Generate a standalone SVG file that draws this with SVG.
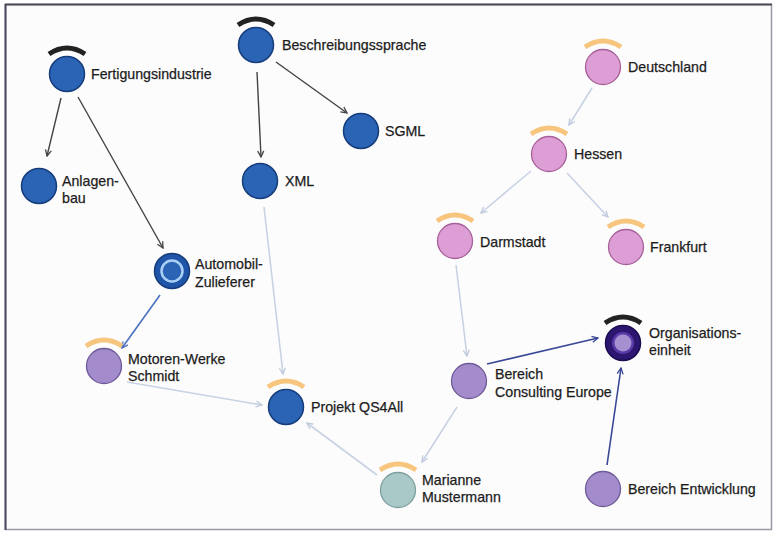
<svg xmlns="http://www.w3.org/2000/svg" width="775" height="534" viewBox="0 0 775 534">
<defs>
<marker id="aDark" viewBox="0 0 8 8" refX="7" refY="4" markerWidth="8" markerHeight="8" markerUnits="userSpaceOnUse" orient="auto"><path d="M1,1 L7,4 L1,7" fill="none" stroke="#444" stroke-width="1.3"/></marker>
<marker id="aBlue" viewBox="0 0 8 8" refX="7" refY="4" markerWidth="8" markerHeight="8" markerUnits="userSpaceOnUse" orient="auto"><path d="M1,1 L7,4 L1,7" fill="none" stroke="#4a70c0" stroke-width="1.3"/></marker>
<marker id="aNavy" viewBox="0 0 8 8" refX="7" refY="4" markerWidth="8" markerHeight="8" markerUnits="userSpaceOnUse" orient="auto"><path d="M1,1 L7,4 L1,7" fill="none" stroke="#3a4898" stroke-width="1.3"/></marker>
<marker id="aLight" viewBox="0 0 8 8" refX="7" refY="4" markerWidth="8" markerHeight="8" markerUnits="userSpaceOnUse" orient="auto"><path d="M1,1 L7,4 L1,7" fill="none" stroke="#bfcadd" stroke-width="1.3"/></marker>
</defs>
<style>
text{font-family:"Liberation Sans",Arial,sans-serif;font-size:14.2px;fill:#1c1c1c;stroke:#1c1c1c;stroke-width:0.25}
.blue{fill:#2b63b5;stroke:#163d7c;stroke-width:1.5}
.pink{fill:#dc9ed4;stroke:#a8609a;stroke-width:1.3}
.purple{fill:#a48ccc;stroke:#6e5a98;stroke-width:1.3}
.teal{fill:#a9c9c9;stroke:#7f9f9f;stroke-width:1.3}
.arcO{fill:none;stroke:#f7c57e;stroke-width:5}
.arcB{fill:none;stroke:#222;stroke-width:5}
.eDark{stroke:#444;stroke-width:1.4;fill:none;marker-end:url(#aDark)}
.eBlue{stroke:#4a70c0;stroke-width:1.6;fill:none;marker-end:url(#aBlue)}
.eNavy{stroke:#3a4898;stroke-width:1.6;fill:none;marker-end:url(#aNavy)}
.eLight{stroke:#c8d2e4;stroke-width:1.6;fill:none;marker-end:url(#aLight)}
</style>
<rect x="0" y="0" width="775" height="534" fill="#ffffff"/>
<rect x="5.5" y="4.5" width="766" height="525" fill="#fcfcfc" stroke="#9a9aa5" stroke-width="1.5"/>
<line x1="5" y1="4.5" x2="772" y2="4.5" stroke="#4a4a55" stroke-width="2"/>
<line x1="5.5" y1="4" x2="5.5" y2="530" stroke="#4a4a60" stroke-width="2"/>
<g id="connectors">
<line class="eDark" x1="61" y1="98" x2="47" y2="156"/>
<line class="eDark" x1="78" y1="97" x2="163" y2="248"/>
<line class="eDark" x1="257" y1="72" x2="261" y2="157"/>
<line class="eDark" x1="276" y1="62" x2="347" y2="113"/>
<line class="eBlue" x1="160" y1="295" x2="122" y2="348"/>
<line class="eLight" x1="264" y1="207" x2="283" y2="374"/>
<line class="eLight" x1="127" y1="382" x2="262" y2="405"/>
<line class="eLight" x1="377" y1="475" x2="307" y2="423"/>
<line class="eLight" x1="457" y1="407" x2="422" y2="462"/>
<line class="eLight" x1="456" y1="265" x2="467" y2="356"/>
<line class="eNavy" x1="487" y1="364" x2="598" y2="338"/>
<line class="eNavy" x1="607" y1="465" x2="621" y2="368"/>
<line class="eLight" x1="592" y1="88" x2="569" y2="125"/>
<line class="eLight" x1="531" y1="171" x2="481" y2="213"/>
<line class="eLight" x1="567" y1="173" x2="608" y2="217"/>
</g>
<g id="n-fertigungsindustrie">
<path class="arcB" d="M49,54 Q67,42 85,54"/>
<circle class="blue" cx="67" cy="74" r="17.5"/>
<text x="91" y="79">Fertigungsindustrie</text>
</g>
<g id="n-beschreibungssprache">
<path class="arcB" d="M238,25 Q256,13 274,25"/>
<circle class="blue" cx="256" cy="45" r="17.5"/>
<text x="282" y="50">Beschreibungssprache</text>
</g>
<g id="n-sgml">
<circle class="blue" cx="361" cy="131" r="17.5"/>
<text x="385" y="136">SGML</text>
</g>
<g id="n-xml">
<circle class="blue" cx="260" cy="181" r="17.5"/>
<text x="285" y="186">XML</text>
</g>
<g id="n-anlagenbau">
<circle class="blue" cx="39" cy="186" r="17.5"/>
<text x="62" y="186">Anlagen-</text>
<text x="62" y="203">bau</text>
</g>
<g id="n-automobil">
<circle cx="172" cy="271" r="17.5" fill="#1f55a8" stroke="#163d7c" stroke-width="1.5"/>
<circle cx="172" cy="271" r="10.5" fill="#2b63b5" stroke="#a8d0f5" stroke-width="2.5"/>
<text x="195" y="269">Automobil-</text>
<text x="195" y="287">Zulieferer</text>
</g>
<g id="n-motoren">
<path class="arcO" d="M86,346 Q104,334 122,346"/>
<circle class="purple" cx="104" cy="366" r="17.5"/>
<text x="128" y="364">Motoren-Werke</text>
<text x="128" y="381">Schmidt</text>
</g>
<g id="n-projekt">
<path class="arcO" d="M268,387 Q286,375 304,387"/>
<circle class="blue" cx="286" cy="407" r="17.5"/>
<text x="311" y="412">Projekt QS4All</text>
</g>
<g id="n-marianne">
<path class="arcO" d="M380,470 Q398,458 416,470"/>
<circle class="teal" cx="398" cy="490" r="17.5"/>
<text x="422" y="485">Marianne</text>
<text x="422" y="502">Mustermann</text>
</g>
<g id="n-deutschland">
<path class="arcO" d="M585,47 Q603,35 621,47"/>
<circle class="pink" cx="603" cy="67" r="17.5"/>
<text x="628" y="72">Deutschland</text>
</g>
<g id="n-hessen">
<path class="arcO" d="M531,134 Q549,122 567,134"/>
<circle class="pink" cx="549" cy="154" r="17.5"/>
<text x="574" y="159">Hessen</text>
</g>
<g id="n-darmstadt">
<path class="arcO" d="M437,221 Q455,209 473,221"/>
<circle class="pink" cx="455" cy="241" r="17.5"/>
<text x="480" y="247">Darmstadt</text>
</g>
<g id="n-frankfurt">
<path class="arcO" d="M608,227 Q626,215 644,227"/>
<circle class="pink" cx="626" cy="247" r="17.5"/>
<text x="650" y="252">Frankfurt</text>
</g>
<g id="n-organisationseinheit">
<path class="arcB" d="M605,323 Q623,311 641,323"/>
<circle cx="623" cy="343" r="17.5" fill="#2c1670" stroke="#1c0c50" stroke-width="1.5"/>
<circle cx="623" cy="343" r="11" fill="#5a3aa8"/>
<circle cx="623" cy="343" r="8.5" fill="#a690cf"/>
<text x="649" y="338">Organisations-</text>
<text x="649" y="355">einheit</text>
</g>
<g id="n-consulting">
<circle class="purple" cx="469" cy="381" r="17.5"/>
<text x="495" y="379">Bereich</text>
<text x="495" y="397">Consulting Europe</text>
</g>
<g id="n-entwicklung">
<circle class="purple" cx="603" cy="489" r="17.5"/>
<text x="628" y="494">Bereich Entwicklung</text>
</g>
</svg>
